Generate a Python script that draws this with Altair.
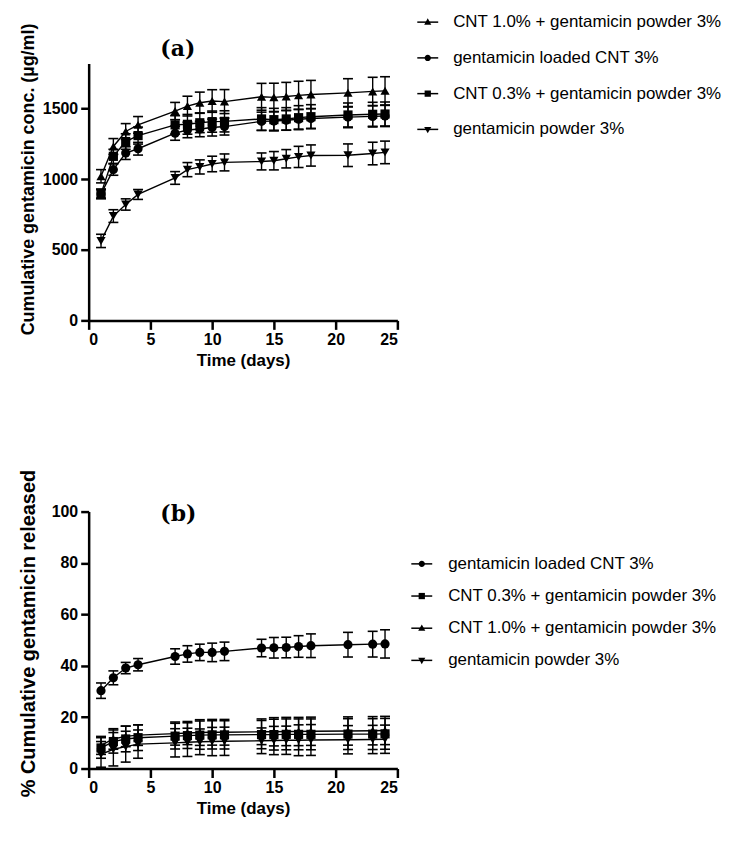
import altair as alt
import pandas as pd

# ---------------- data ----------------
days = [1, 2, 3, 4, 7, 8, 9, 10, 11, 14, 15, 16, 17, 18, 21, 23, 24]

S_C10 = "CNT 1.0% + gentamicin powder 3%"
S_LOAD = "gentamicin loaded CNT 3%"
S_C03 = "CNT 0.3% + gentamicin powder 3%"
S_POW = "gentamicin powder 3%"

# panel (a): cumulative concentration (ug/ml)
a_c10 = [1021, 1232, 1338, 1385, 1483, 1518, 1542, 1554, 1550, 1584, 1580, 1586, 1594, 1600, 1612, 1622, 1626]
a_c10_err = [47, 56, 56, 59, 61, 70, 75, 80, 85, 95, 100, 100, 100, 100, 100, 100, 100]
a_load = [896, 1068, 1185, 1216, 1326, 1349, 1356, 1366, 1373, 1410, 1412, 1418, 1425, 1430, 1440, 1445, 1448]
a_load_err = [35, 40, 45, 45, 50, 55, 55, 60, 60, 65, 65, 70, 70, 70, 75, 75, 75]
a_c03 = [896, 1162, 1267, 1309, 1385, 1389, 1400, 1408, 1410, 1427, 1422, 1427, 1436, 1443, 1455, 1460, 1462]
a_c03_err = [30, 50, 55, 60, 65, 70, 70, 75, 75, 80, 80, 80, 85, 85, 85, 85, 85]
a_pow = [563, 739, 821, 892, 1009, 1068, 1087, 1108, 1119, 1126, 1131, 1145, 1158, 1168, 1170, 1182, 1190]
a_pow_err = [47, 45, 40, 35, 45, 50, 50, 55, 60, 60, 65, 65, 75, 75, 80, 80, 80]

# panel (b): % cumulative released
b_load = [30.3, 35.3, 39.1, 40.4, 43.6, 44.6, 45.2, 45.2, 45.6, 46.9, 47.0, 47.1, 47.5, 47.8, 48.2, 48.4, 48.5]
b_load_err = [3.0, 2.7, 2.2, 2.4, 3.0, 3.2, 3.2, 3.6, 3.6, 3.4, 4.0, 4.0, 4.2, 4.6, 4.8, 5.0, 5.5]
b_c03 = [8.0, 10.5, 11.5, 12.0, 12.6, 12.8, 13.0, 13.1, 13.1, 13.2, 13.2, 13.3, 13.3, 13.3, 13.4, 13.4, 13.5]
b_c03_err = [4.0, 4.5, 5.0, 5.0, 5.0, 5.0, 5.5, 5.5, 5.5, 5.5, 6.0, 6.0, 6.0, 6.0, 6.0, 6.0, 6.0]
b_c10 = [9.0, 11.5, 12.5, 13.0, 13.6, 13.8, 14.0, 14.1, 14.1, 14.3, 14.3, 14.4, 14.4, 14.5, 14.6, 14.7, 14.8]
b_c10_err = [3.5, 4.0, 4.0, 4.0, 4.5, 4.5, 5.0, 5.0, 5.0, 5.0, 5.5, 5.5, 5.5, 5.5, 5.5, 5.5, 5.5]
b_pow = [5.5, 7.5, 8.5, 9.5, 10.0, 10.2, 10.4, 10.5, 10.6, 10.8, 10.9, 11.0, 11.0, 11.1, 11.2, 11.3, 11.4]
b_pow_err = [5.0, 6.5, 6.0, 5.5, 5.5, 5.5, 5.0, 5.5, 5.5, 5.0, 5.5, 5.5, 6.0, 6.0, 5.5, 5.5, 5.5]

x_ticks = [0, 5, 10, 15, 20, 25]
a_y_ticks = [0, 500, 1000, 1500]
b_y_ticks = [0, 20, 40, 60, 80, 100]

# ---------------- styling helpers ----------------
SERIES_ALL = [S_C10, S_LOAD, S_C03, S_POW]
STD_SHAPES = ["triangle-up", "circle", "square", "triangle-down"]
LEG_PATH = {
    S_C10: "M0,-0.36L0.34,0.24L-0.34,0.24Z",
    S_LOAD: "M0.3,0A0.3,0.3 0 1,1 -0.3,0A0.3,0.3 0 1,1 0.3,0Z",
    S_C03: "M-0.3,-0.3H0.3V0.3H-0.3Z",
    S_POW: "M0,0.36L0.34,-0.24L-0.34,-0.24Z",
}
FONT = "Liberation Sans"


def make_df(series):
    rows = []
    for name, vals, errs in series:
        for d, v, e in zip(days, vals, errs):
            rows.append({"day": d, "value": v, "err": e, "series": name, "series_c": name})
    return pd.DataFrame(rows)


def panel(df, ydomain, yticks, ytitle, ytitle_size, title_text, title_offset, leg_order,
          leg_x, leg_y, leg_rowpad, leg_laboff, ytitle_y):
    base = alt.Chart(df).transform_calculate(
        lo="datum.value - datum.err", hi="datum.value + datum.err"
    )
    x = alt.X(
        "day:Q",
        scale=alt.Scale(domain=[0, 25], nice=False, zero=False),
        axis=alt.Axis(values=x_ticks, title="Time (days)", format="d"),
    )
    y = alt.Y(
        "value:Q",
        scale=alt.Scale(domain=ydomain, nice=False),
        axis=alt.Axis(values=yticks, title=ytitle, format="d", titleX=-60, titleY=ytitle_y,
                      titleBaseline="middle", titleAngle=270, titleAlign="center",
                      titleFontSize=ytitle_size),
    )
    common_leg = dict(
        title=None, orient="none", legendX=leg_x, legendY=leg_y,
        labelFont=FONT, labelFontSize=17, labelFontWeight="normal", labelLimit=400,
        symbolSize=441, symbolStrokeWidth=1.5,
        rowPadding=leg_rowpad, labelOffset=leg_laboff, padding=0,
    )
    lines = base.mark_line(strokeWidth=1.4).encode(
        x=x, y=y,
        color=alt.Color(
            "series_c:N",
            scale=alt.Scale(domain=leg_order, range=["black"] * len(leg_order)),
            legend=alt.Legend(symbolType="stroke", labelOpacity=0,
                              labelColor="black", symbolStrokeColor="black",
                              **common_leg),
        ),
    )
    bars = base.mark_rule(color="black", strokeWidth=1.4).encode(
        x="day:Q", y="lo:Q", y2="hi:Q"
    )
    cap_hi = base.mark_tick(color="black", orient="horizontal", size=10,
                            thickness=1.6, opacity=1).encode(x="day:Q", y="hi:Q")
    cap_lo = base.mark_tick(color="black", orient="horizontal", size=10,
                            thickness=1.6, opacity=1).encode(x="day:Q", y="lo:Q")
    pts = base.mark_point(filled=True, color="black", size=85, opacity=1).encode(
        x=x, y=y,
        shape=alt.Shape("series:N",
                        scale=alt.Scale(domain=SERIES_ALL, range=STD_SHAPES),
                        legend=None),
    )
    leg = base.transform_filter("false").mark_point(
        filled=True, color="black", opacity=1
    ).encode(
        x=x, y=y,
        shape=alt.Shape(
            "series:N",
            scale=alt.Scale(domain=leg_order, range=[LEG_PATH[s] for s in leg_order]),
            legend=alt.Legend(labelColor="black", symbolFillColor="black",
                              symbolOpacity=1, **common_leg),
        ),
    )
    return alt.layer(lines, bars, cap_hi, cap_lo, pts, leg).resolve_scale(
        shape="independent"
    ).properties(
        width=310, height=258,
        title=alt.TitleParams(
            text=title_text, anchor="start", frame="group", dx=72,
            offset=title_offset, font="DejaVu Serif", fontSize=22,
            fontWeight="bold", color="black",
        ),
    )


df_a = make_df([
    (S_C10, a_c10, a_c10_err),
    (S_LOAD, a_load, a_load_err),
    (S_C03, a_c03, a_c03_err),
    (S_POW, a_pow, a_pow_err),
])
df_b = make_df([
    (S_LOAD, b_load, b_load_err),
    (S_C03, b_c03, b_c03_err),
    (S_C10, b_c10, b_c10_err),
    (S_POW, b_pow, b_pow_err),
])

pa = panel(df_a, [0, 1820], a_y_ticks, "Cumulative gentamicin conc. (µg/ml)", 18, "(a)", -51,
           [S_C10, S_LOAD, S_C03, S_POW], 329, -53, 15.9, 14, 116)
pb = panel(df_b, [0, 100], b_y_ticks, "% Cumulative gentamicin released", 20, "(b)", -57,
           [S_LOAD, S_C03, S_C10, S_POW], 323, 41, 12.3, 15, 122)

chart = alt.vconcat(pa, pb, spacing=192, bounds="flush").resolve_scale(
    color="independent", shape="independent"
).resolve_legend(
    color="independent", shape="independent"
).properties(
    padding={"left": 10, "top": 1, "right": 5, "bottom": 2}
).configure_view(stroke=None).configure_axis(
    domainColor="black", domainWidth=2.5, tickColor="black", tickWidth=2.5,
    grid=False, labelFont=FONT, labelFontSize=16, labelFontWeight="bold",
    labelColor="black", titleFont=FONT, titleFontWeight="bold",
    titleColor="black",
).configure_axisY(
    tickSize=8, labelPadding=3,
).configure_axisX(
    tickSize=9, labelPadding=2, titlePadding=5, titleFontSize=17,
)

chart.save("out.html", embed_options={"renderer": "svg", "actions": False})
